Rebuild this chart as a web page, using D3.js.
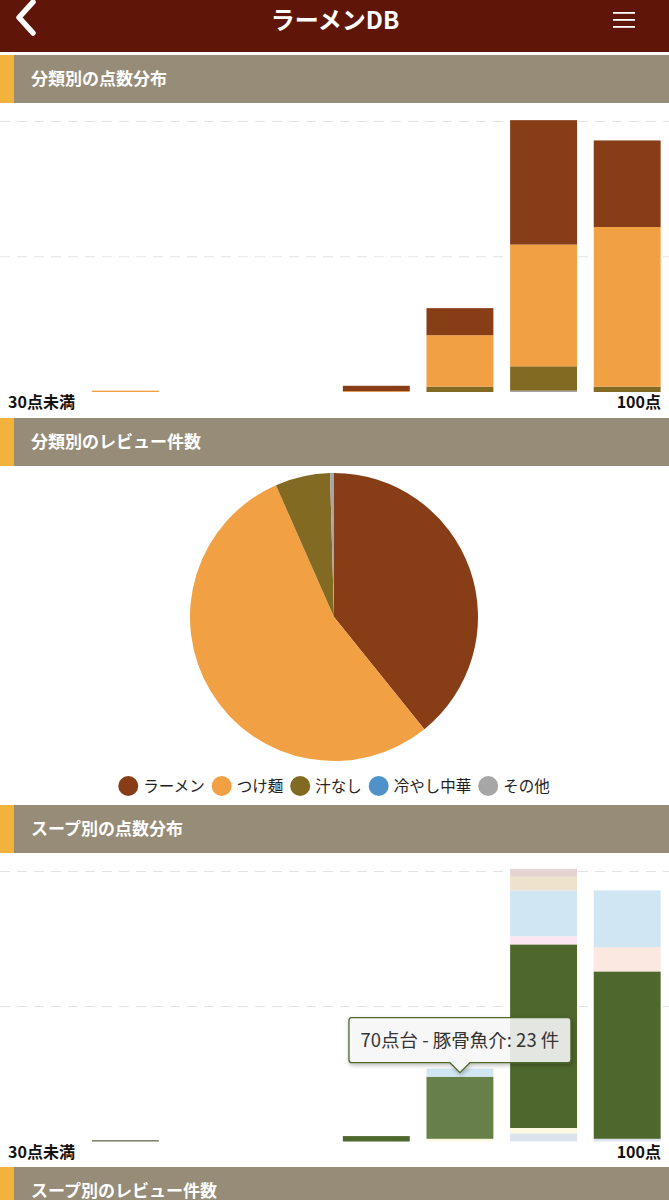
<!DOCTYPE html>
<html><head><meta charset="utf-8">
<script src="https://cdn.jsdelivr.net/npm/d3@7"></script>
<style>
html,body{margin:0;padding:0;background:#fff;}
svg{display:block;font-family:"Noto Sans CJK JP","Noto Sans",sans-serif;}
</style></head>
<body>
<svg id="c" width="669" height="1200"></svg>
<script>
// ---------- data ----------
const appTitle = "ラーメンDB";
const sectionTitles = ["分類別の点数分布","分類別のレビュー件数","スープ別の点数分布","スープ別のレビュー件数"];
const scoreBins = ["30点未満","30点台","40点台","50点台","60点台","70点台","80点台","90点台"];
const axisLabels = ["30点未満","100点"];
const yTicks = [50,100];

// category series (legend order)
const catNames  = ["ラーメン","つけ麺","汁なし","冷やし中華","その他"];
const catColors = ["#873e17","#f2a044","#836a22","#4f92c9","#a6a6a6"];
const ramen   = [0,0,0,0,2,10,46,32];
const tsukemen= [0,0.5,0,0,0.3,19,45,59];
const shirunashi=[0,0,0,0,0,2,9,2];
const hiyashi = [0,0,0,0,0,0,0,0];
const others  = [0,0,0,0,0,0,0.5,0];
const reviewCounts = [89,123,14,0,1];

// soup series (bottom -> top)
const soupNames  = ["煮干し","醤油","塩","豚骨魚介","味噌","豚骨","魚介","鶏白湯","担々"];
const soupColors = ["#6d7052","#dde3ec","#fcf8e2","#4e672c","#fbe6f1","#fbe8e0","#d1e6f3","#efe2cc","#e5d3d1"];
const niboshi = [0,0.5,0,0,0,0,0,0];
const shoyu   = [0,0,0,0,0,0,3,1];
const shio    = [0,0,0,0,0,1,2,0];
const tonkotsuGyokai = [0,0,0,0,2,23,68,62];
const miso    = [0,0,0,0,0,0,3,0];
const tonkotsu= [0,0,0,0,0,0,0,9];
const gyokai  = [0,0,0,0,0,3,17,21];
const toripaitan=[0,0,0,0,0,0,5,0];
const tantan  = [0,0,0,0,0,0,3,0];
const tooltipBin = "70点台", tooltipSeries = "豚骨魚介";

// ---------- drawing ----------
const W = 669;
const svg = d3.select("#c");

// header
svg.append("rect").attr("x",0).attr("y",0).attr("width",W).attr("height",52).attr("fill","#5f1609");
svg.append("path").attr("d","M33,2 L19,17.5 L33,33").attr("fill","none")
  .attr("stroke","#fff").attr("stroke-width",5.5).attr("stroke-linecap","round").attr("stroke-linejoin","round");
svg.append("text").attr("x",335).attr("y",29).attr("text-anchor","middle")
  .attr("fill","#fff").attr("font-size",24).attr("font-weight","bold").text(appTitle);
[13,20,27].forEach(y=>svg.append("rect").attr("x",613).attr("y",y-1).attr("width",22).attr("height",1.8).attr("fill","#fff"));

function section(y, title){
  svg.append("rect").attr("x",0).attr("y",y).attr("width",W).attr("height",48).attr("fill","#978c77");
  svg.append("rect").attr("x",0).attr("y",y).attr("width",14).attr("height",48).attr("fill","#f2b33d");
  svg.append("text").attr("x",31).attr("y",y+30).attr("fill","#fff").attr("font-size",17)
    .attr("font-weight","bold").text(title);
}
section(55, sectionTitles[0]);
section(418, sectionTitles[1]);
section(805, sectionTitles[2]);
section(1167, sectionTitles[3]);

const x = d3.scaleBand().domain(scoreBins).range([0,W]).paddingInner(0.2).paddingOuter(0.1);

function stackedChart(base, top, names, colors, arrays, hover){
  const y = d3.scaleLinear().domain([0,100]).range([base, top]);
  const g = svg.append("g");
  g.selectAll("line.grid").data(yTicks).join("line").attr("class","grid")
    .attr("x1",0).attr("x2",W).attr("y1",d=>y(d)).attr("y2",d=>y(d))
    .attr("stroke","#e3e3e3").attr("stroke-width",1).attr("stroke-dasharray","10,7");
  const rows = scoreBins.map((b,i)=>{const r={bin:b}; names.forEach((n,k)=>r[n]=arrays[k][i]); return r;});
  const stack = d3.stack().keys(names)(rows);
  let hoverRect=null;
  stack.forEach((layer,k)=>{
    g.selectAll(null).data(layer.filter(d=>d[1]-d[0]>0)).join("rect")
      .attr("x",d=>x(d.data.bin)).attr("width",x.bandwidth())
      .attr("y",d=>y(d[1])).attr("height",d=>y(d[0])-y(d[1]))
      .attr("fill",d=>{
        if(hover && d.data.bin===hover.bin && names[k]===hover.series){hoverRect={d,k}; return "#67804a";}
        return colors[k];});
  });
  const ax = g.append("g").attr("font-size",16).attr("font-weight","bold").attr("fill","#111");
  ax.append("text").attr("x",8).attr("y",base+16).text(axisLabels[0]);
  ax.append("text").attr("x",W-8).attr("y",base+16).attr("text-anchor","end").text(axisLabels[1]);
  return {y, hoverRect};
}

stackedChart(392, 121.5, catNames.slice().reverse(), catColors.slice().reverse(),
  [others, hiyashi, shirunashi, tsukemen, ramen], null);

// pie
const pie = d3.pie().sort(null)(reviewCounts);
const arc = d3.arc().innerRadius(0).outerRadius(144);
svg.append("g").attr("transform","translate(334,617)")
  .selectAll("path").data(pie).join("path").attr("d",arc).attr("fill",(d,i)=>catColors[i]);

// legend
const leg = svg.append("g").attr("font-size",15.5).attr("fill","#222");
const items=[];
catNames.forEach((n,i)=>{
  const it = leg.append("g");
  it.append("circle").attr("cx",10).attr("cy",0).attr("r",10).attr("fill",catColors[i]);
  const t = it.append("text").attr("x",25).attr("y",5.5).text(n);
  const w = 25 + t.node().getComputedTextLength();
  items.push({it,w});
});
const gap = 7;
const total = d3.sum(items,d=>d.w) + gap*(items.length-1);
let lx = 334 - total/2;
items.forEach(o=>{o.it.attr("transform",`translate(${lx},786)`); lx += o.w + gap;});

// soup chart
const soupArrays = [niboshi,shoyu,shio,tonkotsuGyokai,miso,tonkotsu,gyokai,toripaitan,tantan];
const sc = stackedChart(1141.5, 871.5, soupNames, soupColors, soupArrays,
  {bin:tooltipBin, series:tooltipSeries});

// tooltip
const si = soupNames.indexOf(tooltipSeries), bi = scoreBins.indexOf(tooltipBin);
const val = soupArrays[si][bi];
const cx = x(tooltipBin) + x.bandwidth()/2;
const tipY = sc.hoverRect ? sc.y(sc.hoverRect.d[1]) - 4 : 1072;
const defs = svg.append("defs");
const f = defs.append("filter").attr("id","sh").attr("x","-10%").attr("y","-20%").attr("width","120%").attr("height","150%");
f.append("feDropShadow").attr("dx",1).attr("dy",2).attr("stdDeviation",2).attr("flood-color","#000").attr("flood-opacity",0.3);
const tg = svg.append("g");
const tw = 222, th = 45, bx = cx - 111, by = tipY - 10 - th;
const p = d3.path();
p.moveTo(bx+3,by); p.lineTo(bx+tw-3,by); p.quadraticCurveTo(bx+tw,by,bx+tw,by+3);
p.lineTo(bx+tw,by+th-3); p.quadraticCurveTo(bx+tw,by+th,bx+tw-3,by+th);
p.lineTo(cx+10,by+th); p.lineTo(cx,tipY); p.lineTo(cx-10,by+th);
p.lineTo(bx+3,by+th); p.quadraticCurveTo(bx,by+th,bx,by+th-3);
p.lineTo(bx,by+3); p.quadraticCurveTo(bx,by,bx+3,by); p.closePath();
tg.append("path").attr("d",p.toString()).attr("fill","rgba(250,250,250,0.86)")
  .attr("stroke","#4e672c").attr("stroke-width",1.3).attr("filter","url(#sh)");
tg.append("text").attr("x",cx).attr("y",by+th/2+6.5).attr("text-anchor","middle")
  .attr("font-size",18.5).attr("fill","#333").text(`${tooltipBin} - ${tooltipSeries}: ${val} 件`);
</script>
</body></html>
